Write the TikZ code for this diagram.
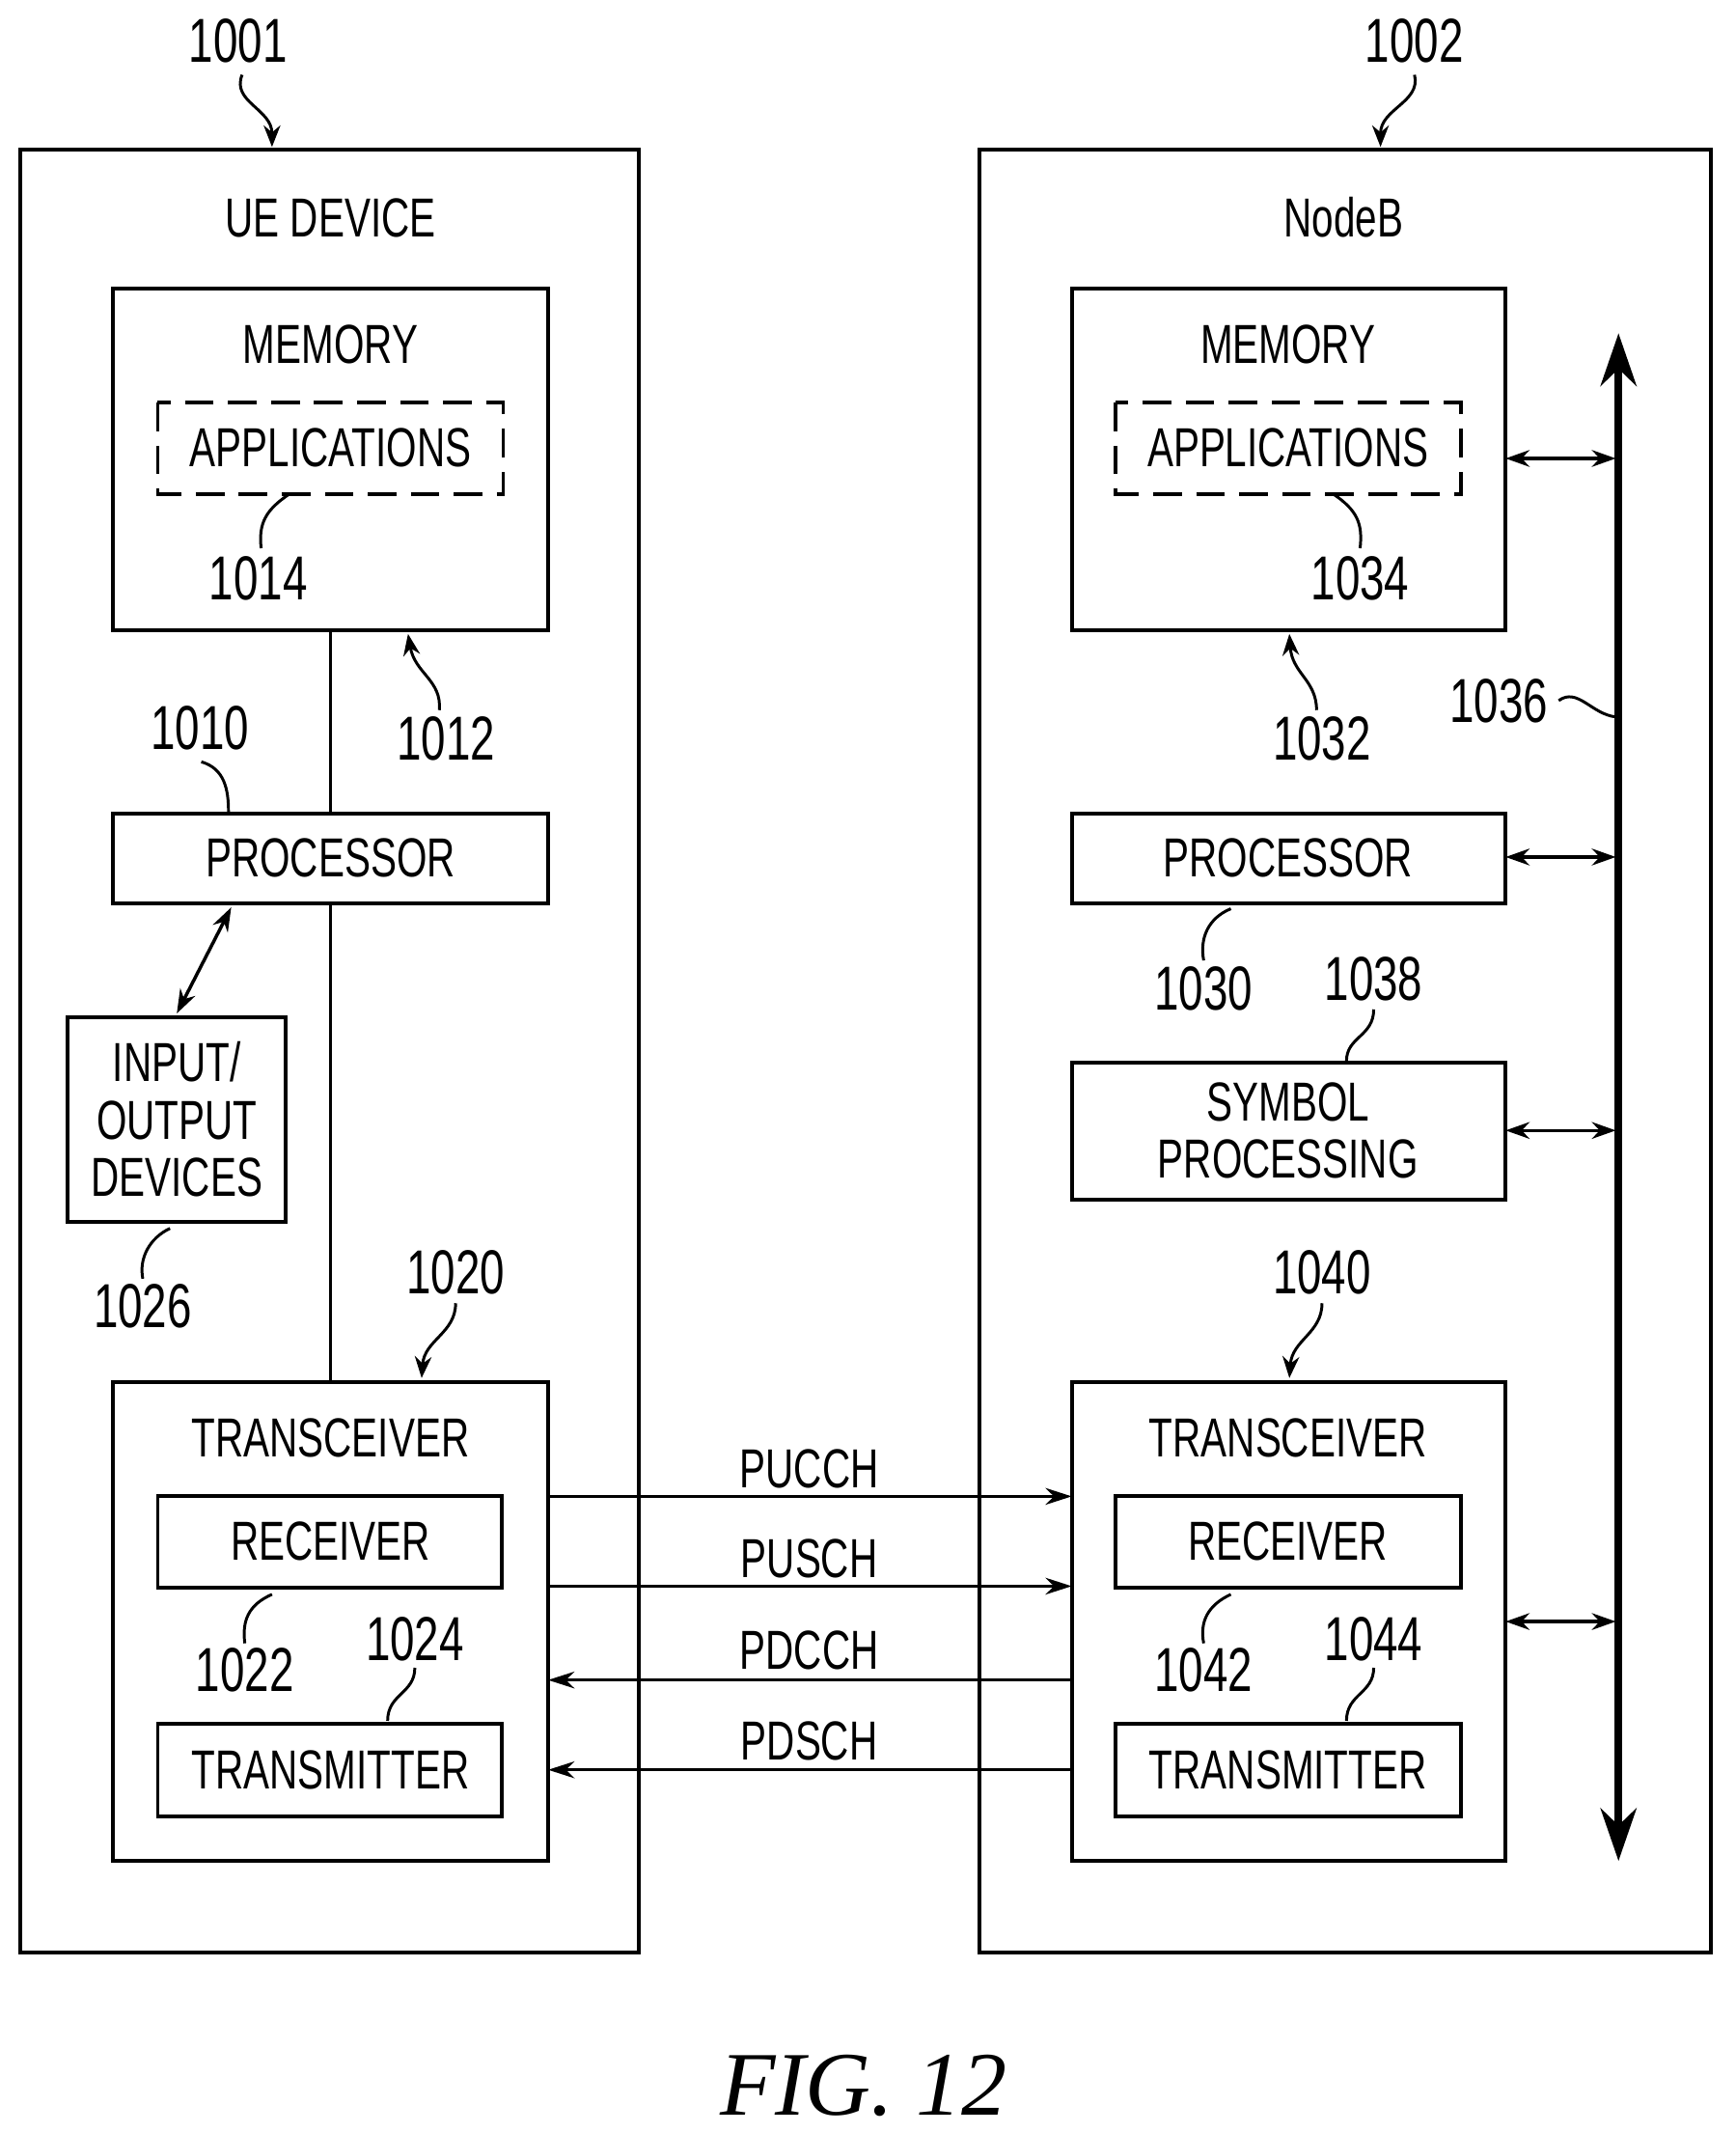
\documentclass[tikz,border=0pt]{standalone}
\usepackage{fontspec}
\setmainfont{Liberation Sans}[FakeStretch=0.71]
\newfontfamily\capfont{Liberation Serif}
\usetikzlibrary{arrows.meta}
\begin{document}
\begin{tikzpicture}[x=0.02cm,y=-0.02cm,
  every node/.style={font=\fontsize{23}{27}\selectfont},
  box/.style={draw,line width=1.6pt,inner sep=0pt},
  ln/.style={line width=1.6pt},
  lead/.style={line width=1.2pt},
  lar/.style={line width=1.2pt,-{Stealth[length=9pt,width=7pt]}},
  dar/.style={line width=1.4pt,{Stealth[length=10pt,width=7pt]}-{Stealth[length=10pt,width=7pt]}},
  ch/.style={line width=1.4pt,-{Stealth[length=11pt,width=7pt]}},
  num/.style={font=\fontsize{26}{30}\selectfont}]
\useasboundingbox (0,0) rectangle (1276,1568);
% outer boxes
\draw[box] (15,110) rectangle (470,1435);
\draw[box] (720,110) rectangle (1258,1435);
\node[num] (n1001) at (175,30) {1001};
\node[num] (n1002) at (1040,30) {1002};
\coordinate (u1) at (200,108); \coordinate (b1) at (1015,108);
\draw[lar] (178,55) .. controls (170,75) and (200,80) .. (u1);
\draw[lar] (1040,55) .. controls (1045,75) and (1015,80) .. (b1);
\node (ue) at (243,160) {UE DEVICE};
\node (nb) at (988,160) {NodeB};
% UE side
\draw[box] (83,212) rectangle (403,463);
\node (mem1) at (243,253) {MEMORY};
\draw[line width=1.6pt,dash pattern=on 12pt off 6pt] (116,296) rectangle (370,363);
\node (app1) at (243,329) {APPLICATIONS};
\node[num] (n1014) at (190,425) {1014};
\draw[lead] (213,363) .. controls (195,375) and (190,385) .. (192,403);
\coordinate (m1b) at (243,463); \coordinate (p1t) at (243,598);
\draw[ln] (m1b) -- (p1t);
\node[num] (n1012) at (328,543) {1012};
\draw[lar] (323,522) .. controls (325,500) and (305,495) .. (300,466);
\node[num] (n1010) at (147,535) {1010};
\draw[lead] (148,560) .. controls (165,565) and (168,580) .. (168,597);
\draw[box] (83,598) rectangle (403,664);
\node (proc1) at (243,631) {PROCESSOR};
\coordinate (p1b) at (243,664); \coordinate (t1t) at (243,1016);
\draw[ln] (p1b) -- (t1t);
\draw[box] (50,748) rectangle (210,898);
\node[align=center,font=\fontsize{23}{24}\selectfont] (io) at (130,823) {INPUT/\\OUTPUT\\DEVICES};
\coordinate (ioa) at (130,745); \coordinate (pa) at (170,667);
\draw[dar] (ioa) -- (pa);
\node[num] (n1026) at (105,960) {1026};
\draw[lead] (125,903) .. controls (110,910) and (102,925) .. (105,940);
\draw[box] (83,1016) rectangle (403,1368);
\node (tr1) at (243,1057) {TRANSCEIVER};
\draw[box] (116,1100) rectangle (369,1167);
\node (rx1) at (243,1133) {RECEIVER};
\draw[box] (116,1267) rectangle (369,1335);
\node (tx1) at (243,1301) {TRANSMITTER};
\node[num] (n1022) at (180,1228) {1022};
\draw[lead] (200,1172) .. controls (182,1180) and (178,1192) .. (180,1208);
\node[num] (n1024) at (305,1205) {1024};
\draw[lead] (305,1226) .. controls (305,1245) and (285,1245) .. (285,1265);
\node[num] (n1020) at (335,935) {1020};
\draw[lar] (335,958) .. controls (335,980) and (312,985) .. (310,1013);
% NodeB side
\draw[box] (788,212) rectangle (1107,463);
\node (mem2) at (947,253) {MEMORY};
\draw[line width=1.6pt,dash pattern=on 12pt off 6pt] (820,296) rectangle (1074,363);
\node (app2) at (947,329) {APPLICATIONS};
\node[num] (n1034) at (1000,425) {1034};
\draw[lead] (980,363) .. controls (998,375) and (1002,385) .. (1000,403);
\node[num] (n1032) at (972,543) {1032};
\draw[lar] (968,522) .. controls (968,500) and (950,495) .. (948,466);
\draw[box] (788,598) rectangle (1107,664);
\node (proc2) at (947,631) {PROCESSOR};
\node[num] (n1030) at (885,727) {1030};
\draw[lead] (905,668) .. controls (888,675) and (882,690) .. (885,706);
\node[num] (n1038) at (1010,720) {1038};
\draw[lead] (1010,742) .. controls (1010,762) and (990,762) .. (990,780);
\draw[box] (788,781) rectangle (1107,882);
\node[align=center,font=\fontsize{23}{24}\selectfont] (sym) at (947,831) {SYMBOL\\PROCESSING};
\node[num] (n1040) at (972,935) {1040};
\draw[lar] (972,958) .. controls (972,980) and (950,985) .. (948,1013);
\draw[box] (788,1016) rectangle (1107,1368);
\node (tr2) at (947,1057) {TRANSCEIVER};
\draw[box] (820,1100) rectangle (1074,1167);
\node (rx2) at (947,1133) {RECEIVER};
\draw[box] (820,1267) rectangle (1074,1335);
\node (tx2) at (947,1301) {TRANSMITTER};
\node[num] (n1042) at (885,1228) {1042};
\draw[lead] (905,1172) .. controls (888,1180) and (882,1192) .. (885,1208);
\node[num] (n1044) at (1010,1205) {1044};
\draw[lead] (1010,1226) .. controls (1010,1245) and (990,1245) .. (990,1265);
% bus
\coordinate (bt) at (1190,245); \coordinate (bb) at (1190,1368);
\draw[line width=3.2pt,{Stealth[length=22pt,width=15pt]}-{Stealth[length=22pt,width=15pt]}] (bt) -- (bb);
\foreach \y in {337,630,831,1192} \draw[dar] (1107,\y) -- (1188,\y);
\node[num] (n1036) at (1102,515) {1036};
\draw[lead] (1146,515) .. controls (1160,505) and (1170,525) .. (1188,527);
% channels
\draw[ch] (403,1100) -- (788,1100); \node (puc) at (595,1080) {PUCCH};
\draw[ch] (403,1166) -- (788,1166); \node (pus) at (595,1146) {PUSCH};
\draw[ch] (788,1235) -- (403,1235); \node (pdc) at (595,1213) {PDCCH};
\draw[ch] (788,1301) -- (403,1301); \node (pds) at (595,1280) {PDSCH};
\node[font=\capfont\itshape\fontsize{38}{42}\selectfont] (fig) at (635,1533) {FIG. 12};
\end{tikzpicture}
\end{document}
